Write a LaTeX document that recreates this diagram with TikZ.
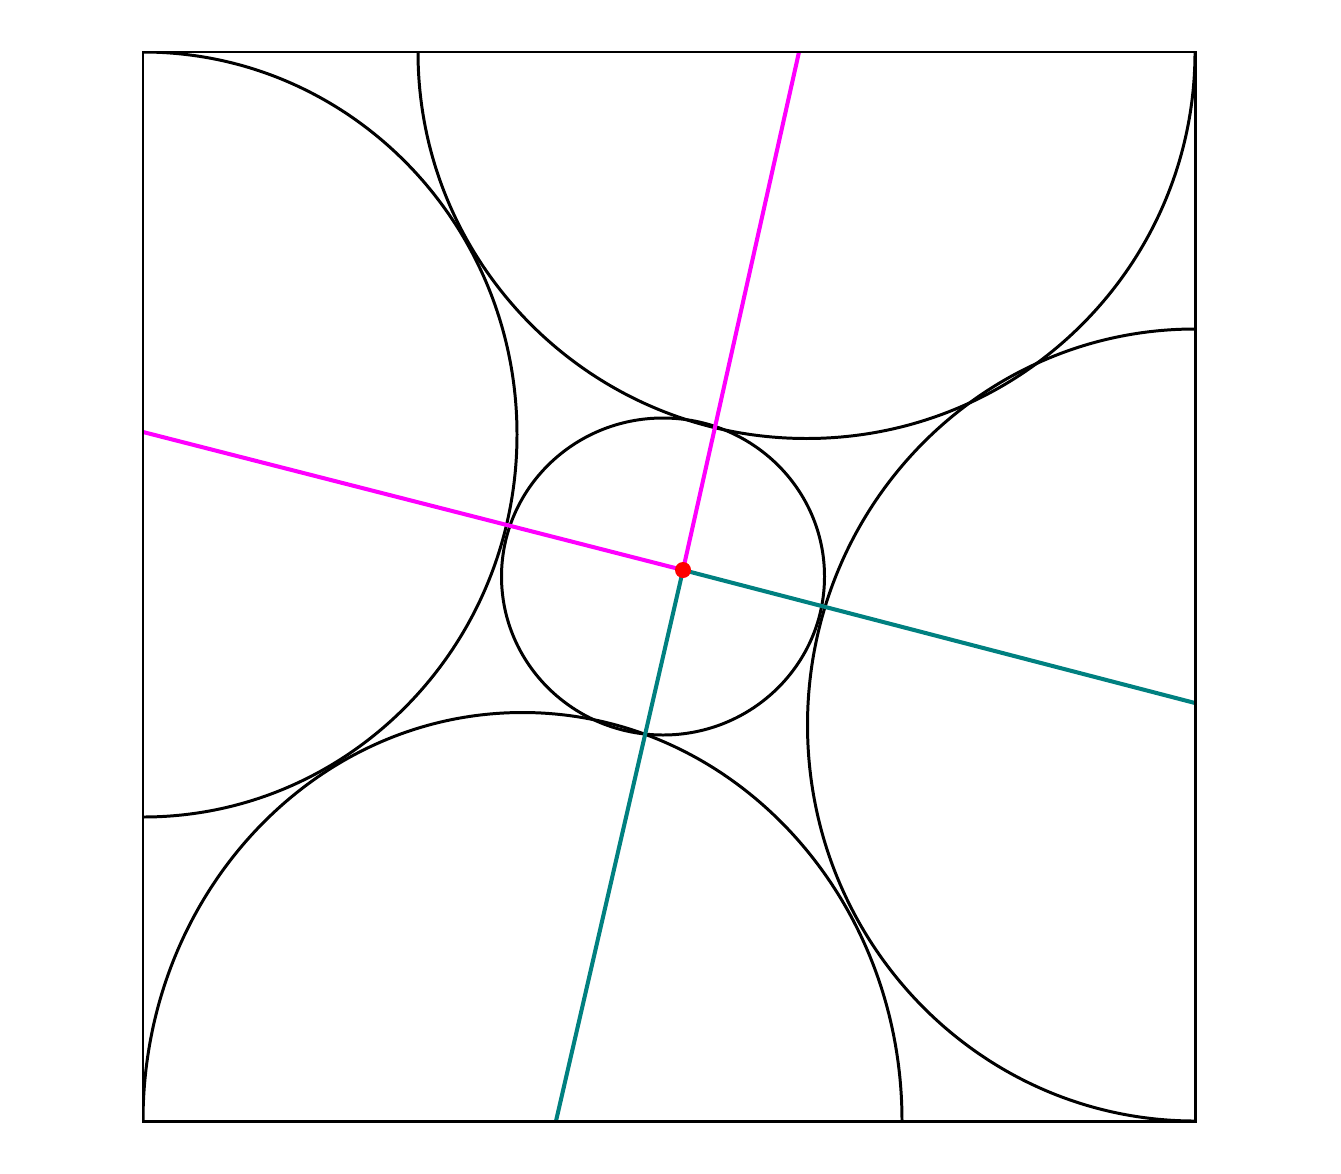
\documentclass[tikz,border=0pt]{standalone}
\usepackage{tikz}
\usetikzlibrary{calc}
\definecolor{axmagenta}{RGB}{255,0,255}
\definecolor{axteal}{RGB}{0,128,128}

\begin{document}
\begin{tikzpicture}[x=0.02cm,y=-0.02cm,line width=1.7pt]
\useasboundingbox (0,0) rectangle (1341,1173);
\coordinate (P) at (683,570);
\coordinate (L) at (143,432);
\coordinate (T) at (799,52);
\coordinate (R) at (1195,703);
\coordinate (B) at (556,1121);
\begin{scope}
\clip (143,52) rectangle (1195,1121);
\draw (143,434.5) ellipse [x radius=374, y radius=382.5];
\draw (806.5,52) ellipse [x radius=388.5, y radius=386.5];
\draw (1195,725) ellipse [x radius=387.5, y radius=396];
\draw (522.5,1121) ellipse [x radius=379.5, y radius=408.5];
\end{scope}
\draw (663,576.5) ellipse [x radius=161.5, y radius=158.5];
\draw[axmagenta,line width=2.3pt] (L) -- (P) -- (T);
\draw[axteal,line width=2.3pt] (R) -- (P) -- (B);
\draw (143,52) rectangle (1195,1121);
\fill[red] (P) circle (8);
\end{tikzpicture}
\end{document}
